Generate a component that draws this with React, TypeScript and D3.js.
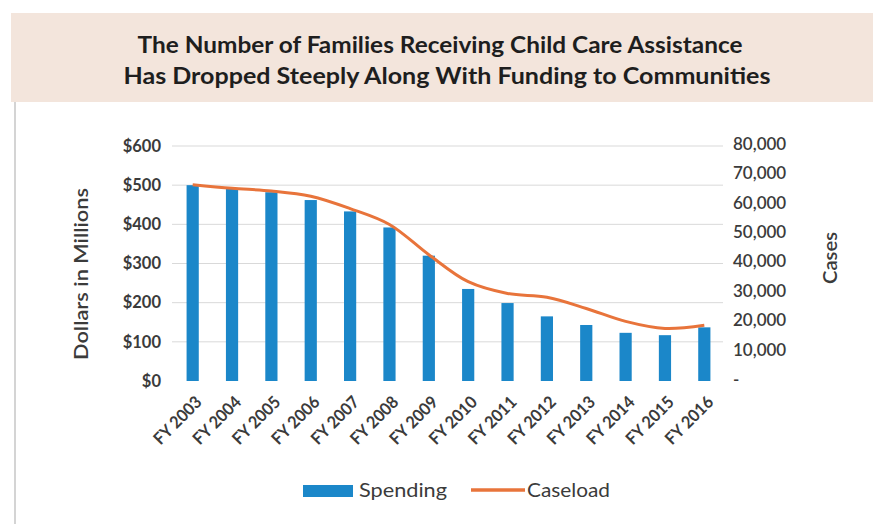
import React from "react";
import * as d3 from "d3";

const categories = ["FY 2003","FY 2004","FY 2005","FY 2006","FY 2007","FY 2008","FY 2009","FY 2010","FY 2011","FY 2012","FY 2013","FY 2014","FY 2015","FY 2016"];
const spending = [500, 492, 482, 462, 433, 392, 320, 235, 199, 165, 143, 123, 117, 137];
const caseload = [66800, 65600, 64700, 62900, 58700, 53300, 43000, 33800, 29800, 28500, 24700, 20300, 17900, 19000];
const leftTicks = [0, 100, 200, 300, 400, 500, 600];
const rightTicks = [0, 10000, 20000, 30000, 40000, 50000, 60000, 70000, 80000];
const titleLines = ["The Number of Families Receiving Child Care Assistance", "Has Dropped Steeply Along With Funding to Communities"];

const FONT = "Lato, 'Open Sans', sans-serif";
const BLUE = "#1b87c9";
const ORANGE = "#e8743b";
const TEXT = "#3b3b3b";

export default function App() {
  const W = 873, H = 524;
  const x = d3.scaleBand<string>().domain(categories).range([173, 724]).paddingInner(0.69).paddingOuter(0.345);
  const yL = d3.scaleLinear().domain([0, 600]).range([381, 146]);
  const yR = d3.scaleLinear().domain([0, 80000]).range([381, 146]);
  const line = d3.line<number>()
    .x((_, i) => (x(categories[i]) as number) + x.bandwidth() / 2)
    .y((d) => yR(d))
    .curve(d3.curveCatmullRom.alpha(0.5));
  const fmt = d3.format(",");

  return (
    <svg width={W} height={H} style={{ position: "absolute", left: 0, top: 0, background: "#fff" }} fontFamily={FONT}>
      <rect x={0} y={0} width={W} height={H} fill="#fff" />
      <rect x={11} y={13} width={W - 11} height={89} fill="#f3e5dc" />
      <line x1={15} x2={15} y1={102} y2={H} stroke="#d4d4d4" strokeWidth={2} />
      {titleLines.map((t, i) => (
        <text key={i} x={i === 0 ? 440 : 447} y={53 + i * 31} textAnchor="middle" fontSize={22} fontWeight={700} fill="#1e1e1e"
          textLength={i === 0 ? 605 : 647} lengthAdjust="spacingAndGlyphs">{t}</text>
      ))}
      {leftTicks.map((t) => (
        <g key={t}>
          {t > 0 && <line x1={172} x2={723} y1={yL(t)} y2={yL(t)} stroke="#d9d9d9" strokeWidth={1} />}
          <text x={161} y={yL(t)} dy="0.35em" textAnchor="end" fontSize={16.5} fontWeight={700} fill={TEXT}>{"$" + t}</text>
        </g>
      ))}
      {rightTicks.map((t) => (
        <text key={t} x={733} y={yR(t) - 2} dy="0.35em" textAnchor="start" fontSize={17} fontWeight={600} fill={TEXT}>{t === 0 ? "-" : fmt(t)}</text>
      ))}
      {spending.map((v, i) => (
        <rect key={i} x={x(categories[i])} y={yL(v)} width={x.bandwidth()} height={yL(0) - yL(v)} fill={BLUE} />
      ))}
      <path d={line(caseload) || ""} fill="none" stroke={ORANGE} strokeWidth={3} />
      {categories.map((c) => {
        const cx = (x(c) as number) + x.bandwidth() / 2;
        return (
          <text key={c} transform={`translate(${cx + 6},${399}) rotate(-45)`} textAnchor="end" dy="0.35em" fontSize={17} fontWeight={700} fill={TEXT}
            textLength={60} lengthAdjust="spacingAndGlyphs">{c}</text>
        );
      })}
      <text transform={`translate(88,274) rotate(-90)`} textAnchor="middle" fontSize={20} fontWeight={600} fill={TEXT}
        textLength={172} lengthAdjust="spacingAndGlyphs">Dollars in Millions</text>
      <text transform={`translate(837,258) rotate(-90)`} textAnchor="middle" fontSize={19} fontWeight={600} fill={TEXT}
        textLength={52} lengthAdjust="spacingAndGlyphs">Cases</text>
      <rect x={303} y={485} width={50} height={12} fill={BLUE} />
      <text x={359} y={497} fontSize={20} fill={TEXT} textLength={88} lengthAdjust="spacingAndGlyphs">Spending</text>
      <line x1={471} x2={525} y1={490} y2={490} stroke={ORANGE} strokeWidth={3.5} />
      <text x={527} y={497} fontSize={20} fill={TEXT} textLength={83} lengthAdjust="spacingAndGlyphs">Caseload</text>
    </svg>
  );
}
